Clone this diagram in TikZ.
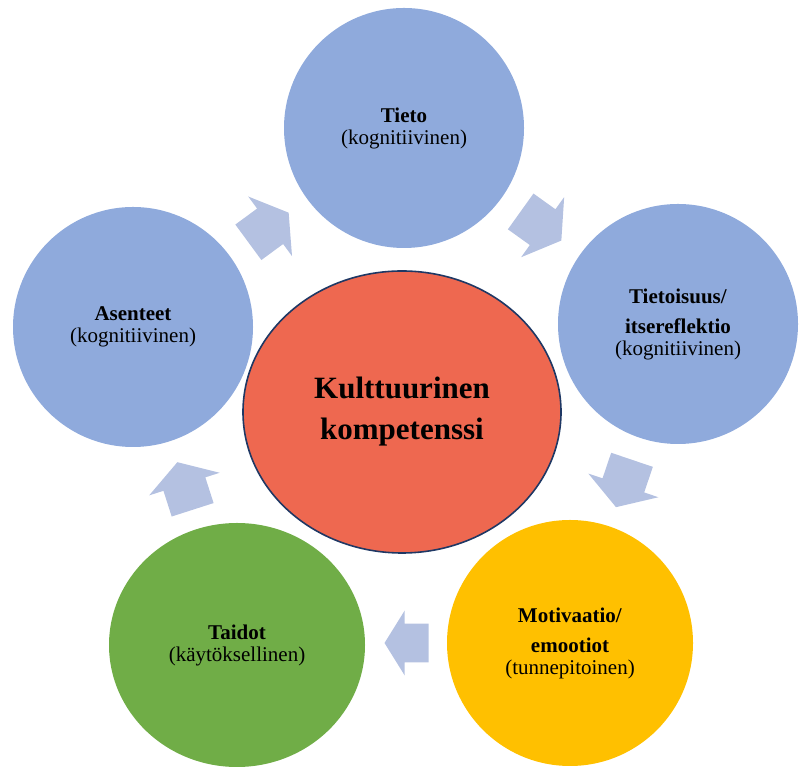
\documentclass[tikz,border=0pt]{standalone}
\usepackage{fontspec}
\setmainfont{Liberation Serif}
\usetikzlibrary{calc,shapes.geometric}
\definecolor{circblue}{HTML}{8FAADC}
\definecolor{arrowfill}{HTML}{B4C1E1}
\definecolor{corefill}{HTML}{EE6850}
\definecolor{coreline}{HTML}{1F3864}
\definecolor{motyellow}{HTML}{FFC000}
\definecolor{taigreen}{HTML}{70AD47}
\tikzset{
  stage/.style={circle, inner sep=0pt, align=center, font=\fontsize{21}{22}\selectfont},
  stageoval/.style={ellipse, inner sep=0pt, align=center, font=\fontsize{21}{22}\selectfont},
  core/.style={ellipse, inner sep=0pt, align=center, fill=corefill, draw=coreline, line width=1.6pt,
    font=\fontsize{31}{41}\selectfont\bfseries},
  blockarrow/.pic={\fill[arrowfill] (-25,-22) -- (2,-22) -- (2,-37) -- (25,0) -- (2,37) -- (2,22) -- (-25,22) -- cycle;}
}
\begin{document}
\begin{tikzpicture}[x=1pt,y=1pt]
\useasboundingbox (0,0) rectangle (800,767);
\node[stage, fill=circblue, minimum size=240pt] (tieto) at (404,639) {\textbf{Tieto}\\(kognitiivinen)};
\node[stage, fill=circblue, minimum size=240pt] (tietoisuus) at (678,443) {\textbf{Tietoisuus/}\\[8pt]\textbf{itsereflektio}\\(kognitiivinen)};
\node[stage, fill=motyellow, minimum size=246pt] (motivaatio) at (570,124) {\textbf{Motivaatio/}\\[8pt]\textbf{emootiot}\\(tunnepitoinen)};
\node[stageoval, fill=taigreen, minimum width=256pt, minimum height=244pt] (taidot) at (237,122) {\textbf{Taidot}\\(käytöksellinen)};
\node[stage, fill=circblue, minimum size=240pt] (asenteet) at (133,440) {\textbf{Asenteet}\\(kognitiivinen)};
\node[core, minimum width=318pt, minimum height=282pt] (core) at (402,355) {Kulttuurinen\\kompetenssi};
\pic[rotate=36.3] at ($(asenteet)!0.5!(tieto)$) {blockarrow};
\pic[rotate=-35.6] at ($(tieto)!0.5!(tietoisuus)$) {blockarrow};
\pic[rotate=251.3] at ($(tietoisuus)!0.5!(motivaatio)$) {blockarrow};
\pic[rotate=180, scale=0.88] at ($(motivaatio)!0.5!(taidot)+(3,1)$) {blockarrow};
\pic[rotate=107.8] at ($(taidot)!0.5!(asenteet)$) {blockarrow};
\end{tikzpicture}
\end{document}
